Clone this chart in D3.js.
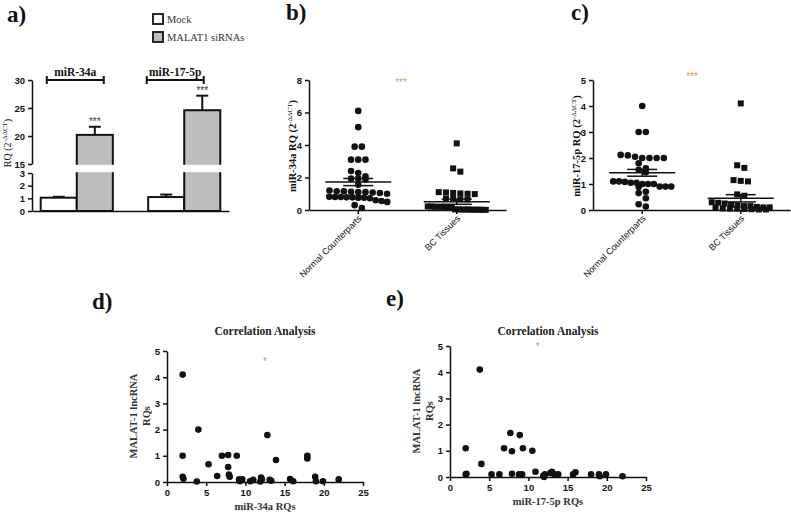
<!DOCTYPE html>
<html><head><meta charset="utf-8">
<script src="https://cdn.jsdelivr.net/npm/d3@7"></script>
<style>body{margin:0;background:#fff}svg{display:block}</style></head>
<body><svg id="chart" width="791" height="514"></svg>
<script>
// ---------------- DATA ----------------
const barGenes = ["miR-34a", "miR-17-5p"];
const barGroups = ["Mock", "MALAT1 siRNAs"];
const barMock = [1.05, 1.1];
const barSiRNA = [20.2, 24.6];
const barMockErr = [0.07, 0.2];
const barSiRNAErr = [1.45, 2.6];
const barTicksLow = [0, 1, 2, 3];
const barTicksHigh = [15, 20, 25, 30];

const scatterCats = ["Normal Counterparts", "BC Tissues"];
const mir34Normal = [6.1, 5.1, 3.9, 3.9, 3.1, 3.1, 3.1, 2.4, 2.28, 2.08, 1.93, 1.93, 1.88, 1.55,
  1.2, 1.15, 1.12, 1.1, 1.1, 1.08, 1.05, 1.0, 1.15, 0.82, 0.78, 0.8, 0.75, 0.72, 0.78, 0.76, 0.8,
  0.6, 0.55, 0.5, 0.3, 0.12];
const mir34BC = [4.1, 2.56, 2.36, 1.1, 1.08, 1.05, 1.02, 1.0, 0.98, 0.7, 0.68, 0.65, 0.66,
  0.22, 0.2, 0.18, 0.2, 0.22, 0.18, 0.2, 0.19, 0.04, 0.02, 0.03, 0.01, 0.02, 0.04, 0.03, 0.02, 0.01, 0.03];
const mir34Means = [1.72, 0.51];
const mir34Sems = [0.22, 0.16];
const mir34Ticks = [0, 2, 4, 6, 8];

const mir17Normal = [4.0, 3.0, 3.0, 2.12, 2.1, 2.05, 2.0, 2.0, 2.0, 2.0, 1.8, 1.6, 1.55, 1.45,
  1.1, 1.08, 1.05, 1.0, 1.0, 1.05, 1.1, 1.0, 0.9, 0.9, 0.88, 0.9, 0.7, 0.65, 0.45, 0.22, 0.13];
const mir17BC = [4.1, 1.72, 1.62, 1.15, 1.12, 1.1, 0.6, 0.55, 0.3, 0.28, 0.25, 0.2, 0.18, 0.15, 0.15,
  0.12, 0.1, 0.1, 0.08, 0.06, 0.05, 0.05, 0.04, 0.03, 0.02, 0.02];
const mir17Means = [1.43, 0.45];
const mir17Sems = [0.13, 0.14];
const mir17Ticks = [0, 1, 2, 3, 4, 5];

const corrTicksX = [0, 5, 10, 15, 20, 25];
const corrTicksY = [0, 1, 2, 3, 4, 5];
const corr34X = [2, 4, 2, 2, 2.1, 3.8, 5.3, 6.4, 7, 7.8, 7.8, 7.9, 8, 8.9, 9.2, 9.3, 9.6, 10.6, 11, 11.9,
  12, 12.1, 12.8, 13.1, 13.3, 13.9, 15.7, 16.1, 17.9, 17.9, 18.9, 19, 19.9, 21.9];
const corr34Y = [4.1, 2.0, 1.0, 0.2, 0.12, 0.02, 0.68, 0.23, 1.0, 1.03, 0.57, 0.28, 0.2, 1.0, 0.1, 0.03, 0.1, 0.03, 0.08, 0.02,
  0.17, 0.1, 1.79, 0.08, 0.05, 0.84, 0.11, 0.03, 1.0, 0.9, 0.2, 0.03, 0.03, 0.1];
const corr17X = [3.8, 2, 2, 2.1, 4, 5.3, 6.3, 6.9, 7.7, 7.9, 7.9, 8.9, 9.3, 8.8, 9.2, 10.5, 10.9, 11.9, 12, 12.1,
  12.8, 13, 13.3, 13.8, 15.7, 16, 18, 19, 19.1, 19.9, 22];
const corr17Y = [4.1, 1.1, 0.1, 0.12, 0.5, 0.1, 0.1, 1.1, 1.68, 0.98, 0.12, 1.6, 1.1, 0.1, 0.1, 1.0, 0.2, 0.05, 0.0, 0.1,
  0.15, 0.2, 0.1, 0.1, 0.1, 0.18, 0.1, 0.1, 0.03, 0.1, 0.03];

// ---------------- HELPERS ----------------
const svg = d3.select("#chart");
const SERIF = "'Liberation Serif', 'Times New Roman', serif";
const SANS = "'Liberation Sans', Arial, sans-serif";
const ORANGE = "#e2953c";
const INK = "#111";
const fmt = d3.format("d");

function styleAxis(g) {
  g.selectAll("path,line").attr("stroke", INK).attr("stroke-width", 1.5);
  g.selectAll("text").attr("font-family", SANS).attr("font-weight", "bold")
    .attr("font-size", 9.5).attr("fill", INK);
}
function panelLetter(t, x, y) {
  svg.append("text").attr("x", x).attr("y", y).text(t)
    .attr("font-family", SERIF).attr("font-weight", "bold").attr("font-size", 23).attr("fill", INK);
}
function rqLabel(prefix, x, y, bold, size) {
  const t = svg.append("text").attr("transform", `translate(${x},${y}) rotate(-90)`)
    .attr("text-anchor", "middle").attr("font-family", SERIF).attr("font-size", size)
    .attr("font-weight", bold ? "bold" : "normal").attr("fill", INK);
  t.append("tspan").text(prefix + "(2");
  t.append("tspan").text("-ΔΔCT").attr("font-size", 7).attr("dy", -4).attr("font-weight", "normal");
  t.append("tspan").text(")").attr("dy", 4);
}
function swarm(values, y, cx, d, maxW) {
  const pts = values.map(v => ({ v, py: y(v) })).sort((a, b) => a.py - b.py);
  const rows = []; let cur = null;
  pts.forEach(p => {
    if (!cur || p.py - cur.anchor > d * 0.8) { cur = { anchor: p.py, pts: [] }; rows.push(cur); }
    cur.pts.push(p);
  });
  rows.forEach(r => {
    const n = r.pts.length; let sp = d + 0.6;
    if (n > 1 && (n - 1) * sp > maxW) sp = maxW / (n - 1);
    r.pts.forEach((p, i) => p.px = cx + (i - (n - 1) / 2) * sp);
  });
  return pts;
}

// ---------------- PANEL A ----------------
(function () {
  const x0 = d3.scaleBand().domain(barGenes).range([32, 229]).paddingInner(0.329).paddingOuter(0.081);
  const x1 = d3.scaleBand().domain(barGroups).range([0, x0.bandwidth()]);
  const y = d3.scaleLinear().domain([0, 3, 15, 30]).range([211, 173, 164, 80]);
  const yLow = d3.scaleLinear().domain([0, 3]).range([211, 173]);
  const yHigh = d3.scaleLinear().domain([15, 30]).range([164, 80]);
  const fills = ["#ffffff", "#bdbdbd"];
  const rows = barGenes.map((g, i) => [
    { g, grp: barGroups[0], v: barMock[i], e: barMockErr[i], f: fills[0] },
    { g, grp: barGroups[1], v: barSiRNA[i], e: barSiRNAErr[i], f: fills[1] }]).flat();
  const g = svg.append("g");
  rows.forEach(r => {
    const bx = x0(r.g) + x1(r.grp), bw = x1.bandwidth();
    const cx = bx + bw / 2;
    g.append("line").attr("x1", cx).attr("x2", cx).attr("y1", y(r.v)).attr("y2", y(r.v + r.e))
      .attr("stroke", INK).attr("stroke-width", 2);
    g.append("line").attr("x1", cx - 6).attr("x2", cx + 6).attr("y1", y(r.v + r.e)).attr("y2", y(r.v + r.e))
      .attr("stroke", INK).attr("stroke-width", 2);
    g.append("rect").attr("x", bx).attr("y", y(r.v)).attr("width", bw).attr("height", y(0) - y(r.v))
      .attr("fill", r.f).attr("stroke", INK).attr("stroke-width", 2);
    if (r.grp === barGroups[1]) {
      g.append("text").attr("x", cx).attr("y", y(r.v + r.e) - 2).attr("text-anchor", "middle")
        .attr("font-family", SANS).attr("font-size", 10).attr("fill", "#333").text("***");
    }
  });
  // axis break band
  g.append("rect").attr("x", 33).attr("y", yHigh(15) + 0.8).attr("width", 200)
    .attr("height", yLow(3) - yHigh(15) - 1.6).attr("fill", "#fff");
  const ax1 = svg.append("g").attr("transform", "translate(32,0)")
    .call(d3.axisLeft(yLow).tickValues(barTicksLow).tickFormat(fmt).tickSize(4).tickSizeOuter(0)); styleAxis(ax1);
  const ax2 = svg.append("g").attr("transform", "translate(32,0)")
    .call(d3.axisLeft(yHigh).tickValues(barTicksHigh).tickFormat(fmt).tickSize(4).tickSizeOuter(0)); styleAxis(ax2);
  const axb = svg.append("g").attr("transform", `translate(0,${y(0)})`)
    .call(d3.axisBottom(x0).tickSize(0).tickSizeOuter(0).tickFormat("")); styleAxis(axb);
  // brackets
  const shift = [-1.5, -9];
  barGenes.forEach((gn, i) => {
    const c = x0(gn) + x0.bandwidth() / 2 + shift[i];
    const l = c - 28.5, r = c + 28.5, by = yHigh(30);
    svg.append("line").attr("x1", l).attr("x2", r).attr("y1", by).attr("y2", by).attr("stroke", INK).attr("stroke-width", 2);
    [l, r].forEach(xx => svg.append("line").attr("x1", xx).attr("x2", xx).attr("y1", by - 4).attr("y2", by + 4)
      .attr("stroke", INK).attr("stroke-width", 2));
    svg.append("text").attr("x", c).attr("y", by - 4).attr("text-anchor", "middle")
      .attr("font-family", SERIF).attr("font-weight", "bold").attr("font-size", 11.5).attr("fill", INK).text(gn);
  });
  // legend
  barGroups.forEach((gr, i) => {
    svg.append("rect").attr("x", 153).attr("y", 14 + i * 18).attr("width", 10).attr("height", 10)
      .attr("fill", fills[i]).attr("stroke", INK).attr("stroke-width", 1.8);
    svg.append("text").attr("x", 167).attr("y", 23 + i * 18).text(gr)
      .attr("font-family", SERIF).attr("font-size", 10.5).attr("fill", "#333");
  });
  rqLabel("RQ ", 11, 143, false, 10);
  panelLetter("a)", 7, 22);
})();

// ---------------- PANELS B, C ----------------
function dotPanel(opts) {
  const x = d3.scaleBand().domain(scatterCats).range([opts.x0, opts.x0 + 197]);
  const y = d3.scaleLinear().domain([0, opts.max]).range([210, 80]);
  const groups = [opts.normal, opts.bc];
  const g = svg.append("g");
  groups.forEach((vals, ci) => {
    const cx = x(scatterCats[ci]) + x.bandwidth() / 2;
    const pts = swarm(vals, y, cx, 6.6, 58);
    if (ci === 0) {
      g.selectAll(null).data(pts).enter().append("circle")
        .attr("cx", d => d.px).attr("cy", d => d.py).attr("r", 3.3).attr("fill", INK);
    } else {
      g.selectAll(null).data(pts).enter().append("rect")
        .attr("x", d => d.px - 3).attr("y", d => d.py - 3).attr("width", 6).attr("height", 6).attr("fill", INK);
    }
    const m = opts.means[ci], s = opts.sems[ci];
    const ln = (x1, x2, y1, y2) => g.append("line").attr("x1", x1).attr("x2", x2).attr("y1", y1).attr("y2", y2)
      .attr("stroke", INK).attr("stroke-width", 1.5);
    ln(cx - 33, cx + 33, y(m), y(m));
    ln(cx, cx, y(m - s), y(m + s));
    ln(cx - 15, cx + 15, y(m + s), y(m + s));
    ln(cx - 15, cx + 15, y(m - s), y(m - s));
  });
  const ay = svg.append("g").attr("transform", `translate(${opts.x0},0)`)
    .call(d3.axisLeft(y).tickValues(opts.ticks).tickFormat(fmt).tickSize(4).tickSizeOuter(0)); styleAxis(ay);
  const ax = svg.append("g").attr("transform", "translate(0,210)")
    .call(d3.axisBottom(x).tickSize(4).tickSizeOuter(0).tickFormat("")); styleAxis(ax);
  scatterCats.forEach(c => {
    const cx = x(c) + x.bandwidth() / 2;
    svg.append("text").attr("transform", `translate(${cx + 4},${219}) rotate(-45)`)
      .attr("text-anchor", "end").attr("font-family", SANS).attr("font-size", 9).attr("fill", INK).text(c);
  });
  svg.append("text").attr("x", opts.starX).attr("y", opts.starY).attr("text-anchor", "middle")
    .attr("font-family", SANS).attr("font-size", 10).attr("fill", ORANGE).text("***");
  rqLabel(opts.label, opts.x0 - 13, 146, true, 10.5);
}
dotPanel({ x0: 309, max: 8, ticks: mir34Ticks, normal: mir34Normal, bc: mir34BC, means: mir34Means,
  sems: mir34Sems, label: "miR-34a RQ ", starX: 401, starY: 86 });
dotPanel({ x0: 593, max: 5, ticks: mir17Ticks, normal: mir17Normal, bc: mir17BC, means: mir17Means,
  sems: mir17Sems, label: "miR-17-5p RQ ", starX: 692, starY: 80 });
panelLetter("b)", 286, 20);
panelLetter("c)", 571, 20);

// ---------------- PANELS D, E ----------------
function corrPanel(o) {
  const x = d3.scaleLinear().domain([0, 25]).range([o.x0, o.x0 + 196]);
  const y = d3.scaleLinear().domain([0, 5]).range([o.y0, o.y0 - 131]);
  const pts = o.xs.map((v, i) => [v, o.ys[i]]);
  svg.append("g").selectAll("circle").data(pts).enter().append("circle")
    .attr("cx", d => x(d[0])).attr("cy", d => y(d[1])).attr("r", 3.3).attr("fill", INK);
  const ay = svg.append("g").attr("transform", `translate(${o.x0},0)`)
    .call(d3.axisLeft(y).tickValues(corrTicksY).tickFormat(fmt).tickSize(4).tickSizeOuter(0)); styleAxis(ay);
  const ax = svg.append("g").attr("transform", `translate(0,${o.y0})`)
    .call(d3.axisBottom(x).tickValues(corrTicksX).tickFormat(fmt).tickSize(4).tickSizeOuter(0)); styleAxis(ax);
  const cx = o.x0 + 98;
  svg.append("text").attr("x", cx).attr("y", 335).attr("text-anchor", "middle").attr("font-family", SERIF)
    .attr("font-weight", "bold").attr("font-size", 11.5).attr("fill", "#222").text("Correlation Analysis");
  svg.append("text").attr("x", cx).attr("y", o.y0 + 28).attr("text-anchor", "middle").attr("font-family", SERIF)
    .attr("font-weight", "bold").attr("font-size", 10.5).attr("fill", "#333").text(o.xlabel);
  const yl = svg.append("text").attr("transform", `translate(${o.x0 - 30},${o.y0 - 66}) rotate(-90)`)
    .attr("text-anchor", "middle").attr("font-family", SERIF).attr("font-weight", "bold")
    .attr("font-size", 10.5).attr("fill", "#333");
  yl.append("tspan").attr("x", 0).text("MALAT-1 lncRNA");
  yl.append("tspan").attr("x", 0).attr("dy", 13).text("RQs");
  svg.append("text").attr("x", x(o.star[0])).attr("y", y(o.star[1])).attr("text-anchor", "middle")
    .attr("font-family", SANS).attr("font-size", 10).attr("fill", ORANGE).text("*");
}
corrPanel({ x0: 167, y0: 482, xs: corr34X, ys: corr34Y, xlabel: "miR-34a RQs", star: [12.5, 4.45] });
corrPanel({ x0: 450, y0: 477, xs: corr17X, ys: corr17Y, xlabel: "miR-17-5p RQs", star: [11.2, 4.85] });
panelLetter("d)", 92, 309);
panelLetter("e)", 386, 306);
</script></body></html>
